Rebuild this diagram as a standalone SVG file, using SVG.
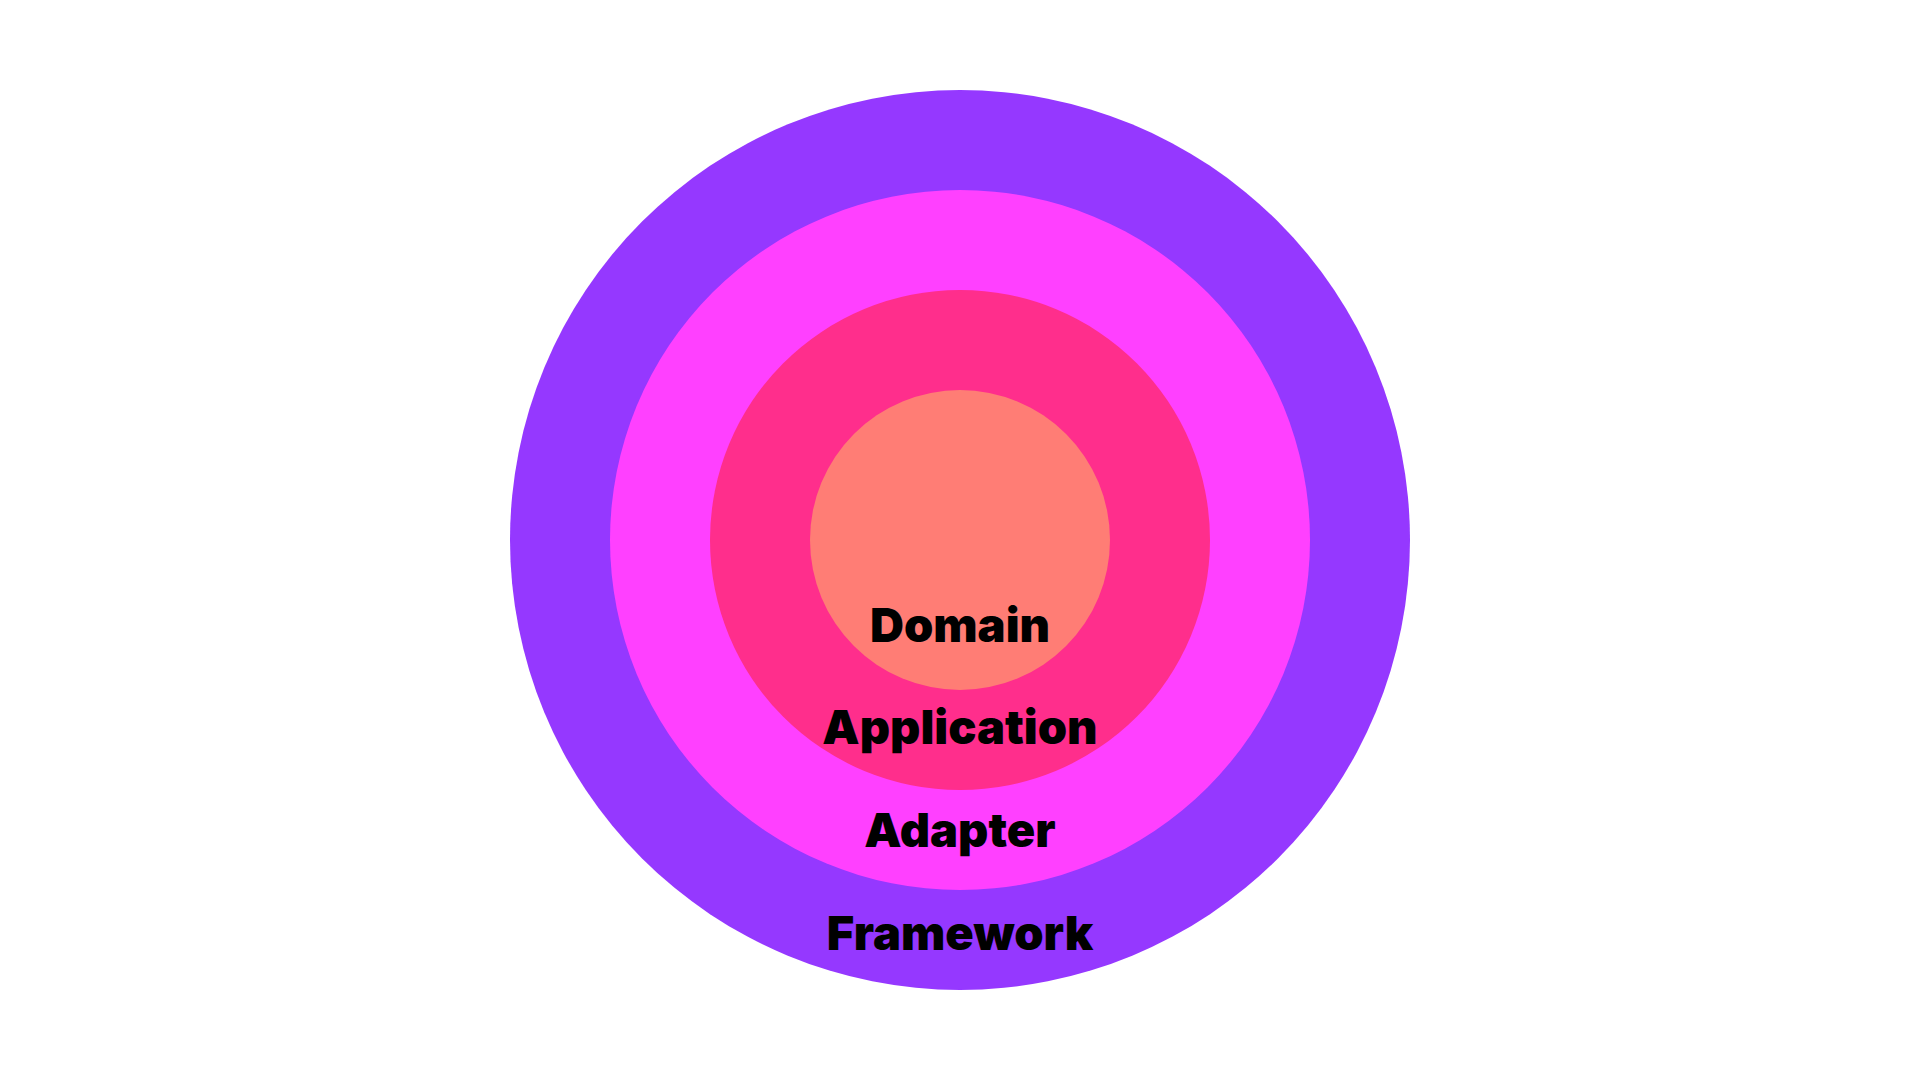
<svg xmlns="http://www.w3.org/2000/svg" width="1920" height="1080" viewBox="0 0 1920 1080">
<style>
.lbl{font-family:Inter,"Liberation Sans",sans-serif;font-weight:900;font-size:47px;fill:#000;text-anchor:middle}
</style>
<rect width="1920" height="1080" fill="#fff"/>
<g id="framework"><circle cx="960" cy="540" r="450" fill="#9538FF"/><text class="lbl" x="960" y="950">Framework</text></g>
<g id="adapter"><circle cx="960" cy="540" r="350" fill="#FF40FF"/><text class="lbl" x="960" y="847">Adapter</text></g>
<g id="application"><circle cx="960" cy="540" r="250" fill="#FF2E8C"/></g>
<g id="domain"><circle cx="960" cy="540" r="150" fill="#FF7D75"/><text class="lbl" x="960" y="642">Domain</text></g>
<g id="application-label"><text class="lbl" x="960" y="744">Application</text></g>
<g id="connectors"/>
</svg>
